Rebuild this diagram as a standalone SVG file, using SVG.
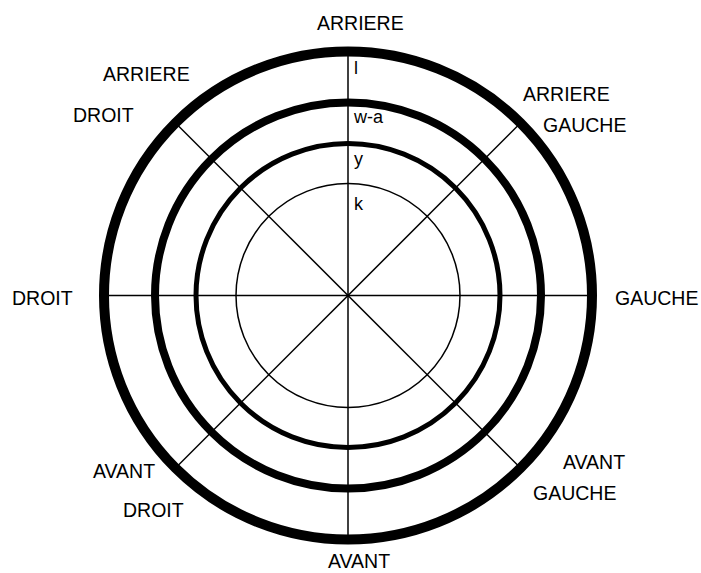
<svg xmlns="http://www.w3.org/2000/svg" width="701" height="573" viewBox="0 0 701 573">
<style>
.ring{fill:none;stroke:#000}
.ax{stroke:#000;stroke-width:1.5}
text{font-family:"Liberation Sans",Arial,sans-serif;font-size:19.5px;fill:#000}
.sm{font-size:18px}
</style>
<rect width="701" height="573" fill="#fff"/>
<g id="connectors">
<line class="ax" x1="348" y1="55" x2="348" y2="536"/>
<line class="ax" x1="107" y1="295.5" x2="589" y2="295.5"/>
<line class="ax" x1="177" y1="124.5" x2="519" y2="466.5"/>
<line class="ax" x1="519" y1="124.5" x2="177" y2="466.5"/>
</g>
<g id="ring-outer"><circle class="ring" cx="348" cy="295.5" r="244" stroke-width="10"/></g>
<g id="ring-wa"><circle class="ring" cx="348" cy="295.5" r="193" stroke-width="8"/></g>
<g id="ring-y"><circle class="ring" cx="348" cy="295.5" r="152" stroke-width="5"/></g>
<g id="ring-k"><circle class="ring" cx="348" cy="295.5" r="112" stroke-width="1.5"/></g>
<g id="ring-labels">
<text class="sm" x="354" y="74">l</text>
<text class="sm" x="354" y="123">w-a</text>
<text class="sm" x="354" y="165">y</text>
<text class="sm" x="354" y="210">k</text>
</g>
<g id="dir-labels">
<text x="317" y="30">ARRIERE</text>
<text x="103" y="81">ARRIERE</text>
<text x="73" y="122">DROIT</text>
<text x="523" y="101">ARRIERE</text>
<text x="543" y="132">GAUCHE</text>
<text x="12" y="305">DROIT</text>
<text x="615" y="305">GAUCHE</text>
<text x="93" y="478">AVANT</text>
<text x="123" y="517">DROIT</text>
<text x="563" y="469">AVANT</text>
<text x="533" y="500">GAUCHE</text>
<text x="328" y="568">AVANT</text>
</g>
</svg>
